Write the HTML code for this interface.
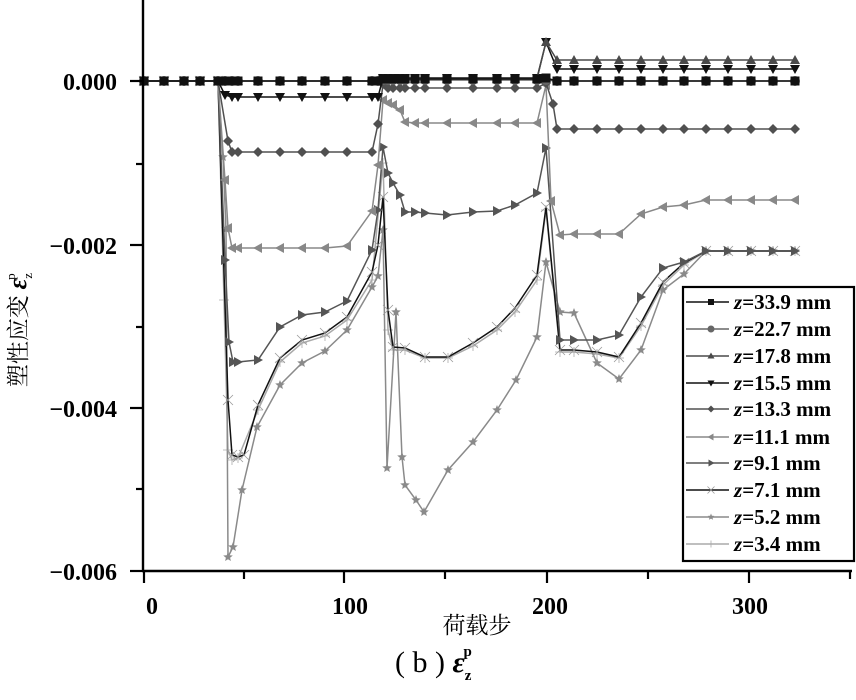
<!DOCTYPE html>
<html><head><meta charset="utf-8"><style>
html,body{margin:0;padding:0;background:#fff;}
svg{display:block;}
text{font-family:"Liberation Serif","Noto Serif CJK SC",serif;}
</style></head><body>
<svg id="s" width="856" height="700" viewBox="0 0 856 700" xmlns="http://www.w3.org/2000/svg">
<g id="data"></g>
<line x1="143" y1="0" x2="143" y2="572" stroke="#000" stroke-width="2.4"/>
<line x1="142" y1="571" x2="852" y2="571" stroke="#000" stroke-width="2.4"/>
<g stroke="#000" stroke-width="2.2">
<line x1="130" y1="81" x2="143" y2="81"/><line x1="136" y1="164" x2="143" y2="164"/>
<line x1="130" y1="245" x2="143" y2="245"/><line x1="136" y1="327" x2="143" y2="327"/>
<line x1="130" y1="408" x2="143" y2="408"/><line x1="136" y1="489" x2="143" y2="489"/>
<line x1="130" y1="571" x2="143" y2="571"/>
<line x1="144" y1="571" x2="144" y2="583"/><line x1="244" y1="571" x2="244" y2="579"/>
<line x1="344" y1="571" x2="344" y2="583"/><line x1="445" y1="571" x2="445" y2="579"/>
<line x1="547" y1="571" x2="547" y2="583"/><line x1="648" y1="571" x2="648" y2="579"/>
<line x1="749" y1="571" x2="749" y2="583"/><line x1="850" y1="571" x2="850" y2="579"/>
</g>
<g font-size="24" font-weight="bold" text-anchor="end" fill="#000">
<text x="117" y="90">0.000</text>
<text x="117" y="254">−0.002</text>
<text x="117" y="417">−0.004</text>
<text x="117" y="580">−0.006</text>
</g>
<g font-size="24" font-weight="bold" text-anchor="middle" fill="#000">
<text x="152" y="614">0</text>
<text x="350" y="614">100</text>
<text x="550" y="614">200</text>
<text x="750" y="614">300</text>
</g>
<text x="477" y="633" font-size="23" text-anchor="middle">荷载步</text>
<g transform="translate(26,330) rotate(-90)">
<text x="0" y="0" font-size="23" text-anchor="middle">塑性应变 <tspan font-style="italic" font-weight="bold" font-size="26">ε</tspan><tspan font-size="13" dy="6">z</tspan><tspan font-size="13" dx="-7" dy="-17">p</tspan></text>
</g>
<text x="395" y="672" font-size="30">( b ) <tspan font-style="italic" font-weight="bold">ε</tspan><tspan font-size="15" dy="8" font-weight="bold">z</tspan><tspan font-size="15" dx="-8" dy="-24" font-weight="bold">p</tspan></text>
<rect x="683" y="287" width="171" height="274" fill="#fff" stroke="#000" stroke-width="2.2"/>
<g id="leg"></g>
</svg>
<script>
const C=[[144,81],[164,81],[184,81],[200,81],[218,81]];
const post=[557,574,597,619,641,663,684,706,728,751,773,795];
function flat(y,xs){return xs.map(x=>[x,y]);}
const P1=[225,232,238,258,280,302,325,347,372,378];
const P2=[383,388,393,400,405,415,425,447,473,497,515,537];
function tail(pts,y){const last=pts[pts.length-1][0];post.forEach(x=>{if(x>last)pts.push([x,y]);});return pts;}
const S=[
 {n:"33.9",c:"#111",m:"sq",p:tail([...C,...flat(81,P1),...flat(79,P2),[546,78]],81)},
 {n:"22.7",c:"#666",m:"ci",p:tail([...C,...flat(81,P1),...flat(80,P2),[546,80]],81)},
 {n:"17.8",c:"#4a4a4a",m:"tu",p:tail([...C,...flat(81,P1),...flat(79,P2),[546,42]],60)},
 {n:"15.5",c:"#111",m:"td",p:tail([...C,[225,95],...flat(97,P1.slice(1)),...flat(78,P2),[546,42]],69)},
 {n:"13.3",c:"#505050",m:"di",p:tail([...C,[228,141],...flat(152,[232,238,258,280,302,325,347,372]),[378,124],[383,84],...flat(88,P2.slice(1)),[546,83],[553,104]],129)},
 {n:"11.1",c:"#888",m:"tl",p:tail([...C,[225,180],[228,228],...flat(248,[232,238,258,280,302,325]),[347,246],[372,211],[378,165],[383,100],[388,103],[393,105],[400,110],[405,122],...flat(123,[415,425,447,473,497,515,537]),[546,85],[551,201],[560,235],[574,234],[597,234],[619,234],[641,214],[663,207],[684,205],[706,200]],200)},
 {n:"9.1",c:"#555",m:"tr",p:tail([...C,[225,260],[229,342],[233,362],[238,362],[258,360],[280,327],[302,315],[325,312],[347,301],[372,250],[378,210],[383,147],[388,173],[393,183],[400,195],[405,212],[415,212],[425,213],[447,215],[473,212],[497,211],[515,205],[537,193],[546,148],[560,340],[574,340],[597,340],[619,335],[641,297],[663,268],[684,262],[706,251]],251)},
 {n:"7.1",c:"#111",mc:"#999",m:"x",p:tail([...C,[228,400],[232,455],[238,457],[244,455],[258,405],[280,358],[302,340],[325,333],[347,317],[372,272],[378,245],[383,197],[388,310],[393,347],[405,348],[425,357],[448,357],[473,343],[497,327],[515,308],[537,275],[546,207],[560,350],[574,350],[597,352],[619,357],[641,323],[663,282],[684,263],[706,251]],251)},
 {n:"5.2",c:"#8a8a8a",m:"st",p:tail([...C,[223,157],[226,229],[228,557],[233,547],[242,490],[257,427],[280,385],[302,363],[325,351],[347,330],[372,287],[378,276],[383,230],[387,468],[396,312],[402,457],[405,485],[416,500],[424,512],[448,470],[473,442],[497,410],[516,380],[537,337],[546,262],[560,312],[574,313],[597,363],[619,379],[641,350],[663,290],[684,274],[706,251]],251)},
 {n:"3.4",c:"#aaa",m:"pl",p:tail([...C,[224,300],[228,450],[232,460],[238,458],[258,410],[280,362],[302,343],[325,336],[347,320],[372,280],[383,163],[388,330],[393,350],[405,350],[425,358],[448,358],[473,346],[497,330],[515,312],[537,280],[546,210],[560,352],[574,352],[597,354],[619,358],[641,326],[663,285],[684,265],[706,251]],251)}
];
const NS="http://www.w3.org/2000/svg";
function el(t,a,par){const e=document.createElementNS(NS,t);for(const k in a)e.setAttribute(k,a[k]);par.appendChild(e);return e;}
function mk(m,x,y,c,g,r){r=r||5;
 if(m=="sq")el("rect",{x:x-r+0.5,y:y-r+0.5,width:2*r-1,height:2*r-1,fill:c},g);
 else if(m=="ci")el("circle",{cx:x,cy:y,r:r,fill:c},g);
 else if(m=="tu")el("polygon",{points:`${x},${y-r} ${x-r},${y+r-1} ${x+r},${y+r-1}`,fill:c},g);
 else if(m=="td")el("polygon",{points:`${x},${y+r} ${x-r},${y-r+1} ${x+r},${y-r+1}`,fill:c},g);
 else if(m=="di")el("polygon",{points:`${x},${y-r} ${x+r},${y} ${x},${y+r} ${x-r},${y}`,fill:c},g);
 else if(m=="tl")el("polygon",{points:`${x-r},${y} ${x+r-1},${y-r} ${x+r-1},${y+r}`,fill:c},g);
 else if(m=="tr")el("polygon",{points:`${x+r},${y} ${x-r+1},${y-r} ${x-r+1},${y+r}`,fill:c},g);
 else if(m=="x"){el("path",{d:`M${x-r} ${y-r}L${x+r} ${y+r}M${x-r} ${y+r}L${x+r} ${y-r}`,stroke:c,"stroke-width":0.8},g);}
 else if(m=="pl"){el("path",{d:`M${x-r} ${y}L${x+r} ${y}M${x} ${y-r}L${x} ${y+r}`,stroke:c,"stroke-width":0.8},g);}
 else if(m=="st"){let p=[];for(let i=0;i<10;i++){const a=-Math.PI/2+i*Math.PI/5,rr=i%2?r*0.45:r;p.push((x+rr*Math.cos(a)).toFixed(1)+","+(y+rr*Math.sin(a)).toFixed(1));}el("polygon",{points:p.join(" "),fill:c},g);}
}
const g=document.getElementById("data");
S.slice().reverse().forEach(s=>{
 el("polyline",{points:s.p.map(q=>q.join(",")).join(" "),fill:"none",stroke:s.c,"stroke-width":1.5},g);
 s.p.forEach(q=>mk(s.m,q[0],q[1],s.mc||s.c,g));
});
const L=document.getElementById("leg");
const ys=[302,329,356,383,409,437,463,490,517,544];
S.forEach((s,i)=>{const y=ys[i];
 el("line",{x1:686,y1:y,x2:729,y2:y,stroke:s.c,"stroke-width":1.5},L);
 mk(s.m,711,y,s.mc||s.c,L,3.5);
 const t=el("text",{x:734,y:y+7,"font-size":21,"font-weight":"bold",fill:"#000"},L);
 const z=document.createElementNS(NS,"tspan");z.setAttribute("font-style","italic");z.textContent="z";t.appendChild(z);
 t.appendChild(document.createTextNode("="+s.n+" mm"));
});
</script>
</body></html>
